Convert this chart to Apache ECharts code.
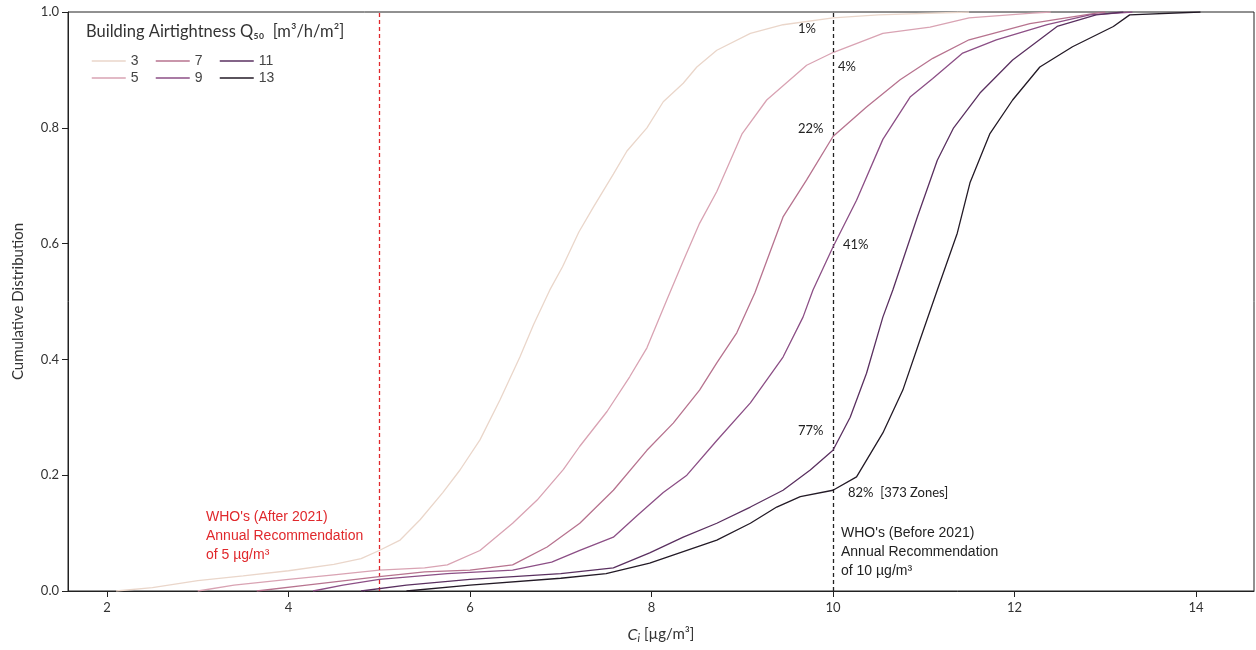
<!DOCTYPE html>
<html>
<head>
<meta charset="utf-8">
<script src="https://cdn.jsdelivr.net/npm/echarts@6.0.0/dist/echarts.min.js"></script>
<style>
  html, body { margin: 0; padding: 0; background: #fff; }
  #main { width: 1256px; height: 650px; }
</style>
</head>
<body>
<div id="main"></div>
<script>
// airtightness classes (legend names)
var classNames = ['3', '5', '7', '9', '11', '13'];
var classColors = ['#ead6ca', '#d9a3b3', '#b7738f', '#8c4f86', '#5a3060', '#231a26'];

// [Ci, cumulative fraction]
var q3 = [[2.1,0],[2.5,0.006],[3,0.018],[3.5,0.026],[4,0.035],[4.5,0.046],[4.8,0.056],[5,0.07],[5.23,0.088],[5.45,0.123],[5.7,0.17],[5.89,0.209],[6.11,0.261],[6.33,0.33],[6.55,0.404],[6.7,0.46],[6.88,0.52],[7.02,0.56],[7.2,0.62],[7.36,0.663],[7.58,0.72],[7.73,0.76],[7.95,0.80],[8.13,0.845],[8.35,0.877],[8.5,0.905],[8.72,0.934],[9.09,0.963],[9.45,0.978],[10,0.99],[10.5,0.995],[11.5,1]];
var q5 = [[3.0,0],[3.4,0.01],[4,0.02],[4.5,0.028],[5,0.036],[5.5,0.04],[5.75,0.045],[6.11,0.07],[6.47,0.117],[6.74,0.157],[7.03,0.21],[7.21,0.25],[7.51,0.31],[7.76,0.37],[7.95,0.42],[8.17,0.503],[8.35,0.57],[8.53,0.635],[8.72,0.69],[9.0,0.79],[9.27,0.848],[9.71,0.908],[10,0.93],[10.55,0.963],[11.07,0.974],[11.5,0.99],[12.2,0.998],[12.4,1]];
var q7 = [[3.65,0],[4.2,0.01],[5,0.025],[5.5,0.033],[6,0.036],[6.47,0.045],[6.85,0.076],[7.21,0.117],[7.58,0.174],[7.95,0.243],[8.24,0.29],[8.53,0.347],[8.72,0.394],[8.94,0.446],[9.14,0.515],[9.45,0.646],[9.71,0.71],[10,0.785],[10.37,0.836],[10.74,0.883],[11.1,0.92],[11.5,0.952],[12.17,0.98],[12.9,0.998],[13.0,1]];
var q9 = [[4.27,0],[4.6,0.01],[5,0.02],[5.75,0.03],[6.47,0.036],[6.9,0.05],[7.21,0.07],[7.58,0.093],[7.84,0.13],[8.13,0.17],[8.39,0.2],[8.72,0.26],[9.09,0.325],[9.45,0.404],[9.67,0.473],[9.78,0.52],[10,0.594],[10.26,0.675],[10.55,0.78],[10.85,0.853],[11.1,0.885],[11.43,0.929],[11.8,0.952],[12.36,0.978],[12.83,0.995],[13.3,1]];
var q11 = [[4.8,0],[5.3,0.01],[6,0.02],[7,0.03],[7.58,0.04],[7.98,0.066],[8.35,0.093],[8.72,0.117],[9.09,0.145],[9.45,0.174],[9.75,0.209],[10,0.243],[10.19,0.30],[10.37,0.376],[10.55,0.473],[10.66,0.52],[10.93,0.646],[11.15,0.744],[11.33,0.80],[11.62,0.86],[11.98,0.917],[12.47,0.975],[12.9,0.995],[13.2,1]];
var q13 = [[5.3,0],[6,0.01],[7,0.022],[7.5,0.03],[7.98,0.048],[8.72,0.088],[9.09,0.117],[9.38,0.145],[9.64,0.163],[10,0.174],[10.26,0.197],[10.55,0.273],[10.77,0.347],[10.96,0.434],[11.15,0.52],[11.37,0.618],[11.51,0.705],[11.73,0.79],[11.98,0.848],[12.28,0.905],[12.64,0.94],[13.09,0.975],[13.27,0.995],[14.05,1]];
var curves = [q3, q5, q7, q9, q11, q13];

var xTicks = [2, 4, 6, 8, 10, 12, 14];
var whoLimits = [5, 10];

var chartDom = document.getElementById('main');
var myChart = echarts.init(chartDom);
var option;

var calibri = 'Lato, "Open Sans", sans-serif';
var arial = '"Liberation Sans", Arial, sans-serif';

var series = classNames.map(function (name, i) {
    return {
        name: name,
        type: 'line',
        data: curves[i],
        symbol: 'none',
        smooth: false,
        z: 3 + i,
        lineStyle: { color: classColors[i], width: 1.3 },
        itemStyle: { color: classColors[i] }
    };
});

// WHO guideline lines
series.push({
    name: 'who',
    type: 'line',
    data: [],
    markLine: {
        silent: true,
        symbol: 'none',
        label: { show: false },
        data: [
            { xAxis: whoLimits[0], lineStyle: { color: '#e0282c', type: [4, 3], width: 1.3 } },
            { xAxis: whoLimits[1], lineStyle: { color: '#222', type: [4, 3], width: 1.3 } }
        ]
    }
});

function legendCol(names, left) {
    return {
        show: true,
        data: names.map(function (n) { return { name: n }; }),
        orient: 'vertical',
        left: left,
        top: 49,
        itemWidth: 34,
        itemHeight: 14,
        itemGap: 3,
        itemStyle: { opacity: 0 },
        lineStyle: { width: 1.5 },
        textStyle: { color: '#444', fontSize: 14, fontFamily: arial }
    };
}

option = {
    backgroundColor: '#fff',
    animation: false,
    grid: {
        left: 68, right: 2, top: 12, bottom: 59,
        show: true, borderColor: '#222', borderWidth: 1
    },
    legend: [
        legendCol(['3', '5'], 86),
        legendCol(['7', '9'], 150),
        legendCol(['11', '13'], 214)
    ],
    xAxis: {
        type: 'value',
        min: 1.57,
        max: 14.64,
        splitLine: { show: false },
        axisLine: { lineStyle: { color: '#222', width: 1 } },
        axisTick: { show: true, length: 6, lineStyle: { color: '#222' }, customValues: xTicks },
        axisLabel: {
            color: '#333', fontSize: 13, fontFamily: calibri, margin: 10,
            customValues: xTicks,
            formatter: function (v) { return xTicks.indexOf(v) >= 0 ? String(v) : ''; }
        },
        name: '{c|C}{i|i}{u| [µg/m³]}',
        nameLocation: 'middle',
        nameGap: 34,
        nameTextStyle: {
            rich: {
                c: { fontSize: 16, fontStyle: 'italic', fontFamily: calibri, color: '#333' },
                i: { fontSize: 11, fontStyle: 'italic', fontFamily: calibri, color: '#333', padding: [8, 0, 0, 0] },
                u: { fontSize: 15, fontFamily: calibri, color: '#333' }
            }
        }
    },
    yAxis: {
        type: 'value',
        min: 0,
        max: 1,
        interval: 0.2,
        splitLine: { show: false },
        axisLine: { show: true, lineStyle: { color: '#222', width: 1 } },
        axisTick: { show: true, length: 6, lineStyle: { color: '#222' } },
        axisLabel: {
            color: '#333', fontSize: 13, fontFamily: calibri, margin: 9,
            formatter: function (v) { return v.toFixed(1); }
        },
        name: 'Cumulative Distribution',
        nameLocation: 'middle',
        nameGap: 42,
        nameTextStyle: { color: '#333', fontSize: 15, fontFamily: calibri }
    },
    graphic: [
        {
            type: 'text', left: 86, top: 23, z: 100,
            style: { text: 'Building Airtightness Q₅₀  [m³/h/m²]', fill: '#333', font: '16.5px ' + calibri }
        },
        { type: 'text', left: 798, top: 22, style: { text: '1%', fill: '#222', font: '13px ' + calibri } },
        { type: 'text', left: 838, top: 60, style: { text: '4%', fill: '#222', font: '13px ' + calibri } },
        { type: 'text', left: 798, top: 122, style: { text: '22%', fill: '#222', font: '13px ' + calibri } },
        { type: 'text', left: 843, top: 238, style: { text: '41%', fill: '#222', font: '13px ' + calibri } },
        { type: 'text', left: 798, top: 424, style: { text: '77%', fill: '#222', font: '13px ' + calibri } },
        { type: 'text', left: 848, top: 486, style: { text: '82%  [373 Zones]', fill: '#222', font: '13px ' + calibri } },
        {
            type: 'text', left: 841, top: 524,
            style: {
                text: "WHO's (Before 2021)\nAnnual Recommendation\nof 10 µg/m³",
                fill: '#222', font: '14px ' + arial, lineHeight: 19
            }
        },
        {
            type: 'text', left: 206, top: 508,
            style: {
                text: "WHO's (After 2021)\nAnnual Recommendation\nof 5 µg/m³",
                fill: '#e0282c', font: '14px ' + arial, lineHeight: 19
            }
        }
    ],
    series: series
};

try {
    option && myChart.setOption(option);
} catch (e) {
    document.body.insertAdjacentHTML('beforeend', '<pre>' + e.stack + '</pre>');
}
</script>
</body>
</html>
